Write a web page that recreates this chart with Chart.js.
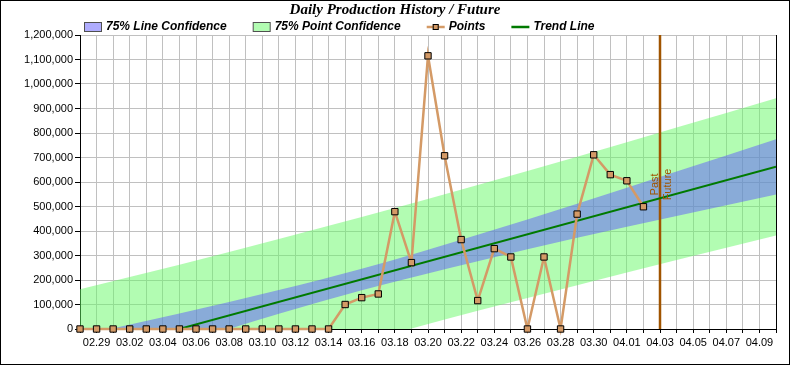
<!DOCTYPE html>
<html>
<head>
<meta charset="utf-8">
<title>Daily Production History / Future</title>
<script src="https://cdn.jsdelivr.net/npm/chart.js@4.4.1/dist/chart.umd.min.js"></script>
<style>
  html, body { margin: 0; padding: 0; background: #fff; }
  canvas { display: block; }
</style>
</head>
<body>
<canvas id="prodChart" width="790" height="365"></canvas>
<script>
// one label per day, 02.28 .. 04.10
const dayLabels = [
  '02.28', '02.29',
  '03.01', '03.02', '03.03', '03.04', '03.05', '03.06', '03.07', '03.08', '03.09', '03.10',
  '03.11', '03.12', '03.13', '03.14', '03.15', '03.16', '03.17', '03.18', '03.19', '03.20',
  '03.21', '03.22', '03.23', '03.24', '03.25', '03.26', '03.27', '03.28', '03.29', '03.30', '03.31',
  '04.01', '04.02', '04.03', '04.04', '04.05', '04.06', '04.07', '04.08', '04.09', '04.10'
];

// daily production, 02.28 .. 04.02
const production = [
  0, 0, 0, 0, 0, 0, 0, 0, 0, 0, 0, 0, 0, 0, 0, 0,
  100000, 128000, 143000, 479000, 271000, 1115000, 707000, 365000, 116000,
  328000, 294000, 0, 294000, 0, 469000, 711000, 630000, 605000, 499000
];

// trend line end points (day index, value)
const trendDays = [0, 42];
const trendValues = [-110000, 662000];

// confidence bands, sampled at these day indexes
const bandDays = [0, 6, 12, 17, 24, 30, 36, 42];
const lineConfUpper = [-27000, 63000, 159000, 246000, 385000, 511000, 643000, 775000];
const lineConfLower = [-193000, -63000, 62000, 158000, 277000, 372000, 461000, 549000];
const pointConfUpper = [162000, 262000, 367000, 457000, 588000, 703000, 822000, 942000];
const pointConfLower = [-377000, -260000, -145000, -53000, 74000, 179000, 282000, 382000];

// past / future split
const splitDay = 35;
const splitLabelValue = 590000;

const yTicks = { min: 0, max: 1200000, step: 100000 };

const pointsColor = '#d49a66';
const trendColor = '#007a00';
const splitColor = '#a05400';
const lineConfColor = 'rgba(96, 89, 254, 0.5)';
const pointConfColor = 'rgba(102, 250, 102, 0.5)';

const xy = (xs, ys) => ys.map((v, i) => ({ x: xs[i], y: v }));
const dayIdx = production.map((v, i) => i);

Chart.defaults.font.family = '"Liberation Sans", Arial, sans-serif';
Chart.defaults.font.size = 11;
Chart.defaults.color = '#000';

// white background + outer frame
const framePlugin = {
  id: 'frame',
  beforeDraw(chart) {
    const ctx = chart.ctx;
    ctx.save();
    ctx.fillStyle = '#fff';
    ctx.fillRect(0, 0, chart.width, chart.height);
    ctx.restore();
  },
  afterDraw(chart) {
    const ctx = chart.ctx;
    ctx.save();
    ctx.strokeStyle = '#000';
    ctx.lineWidth = 1;
    ctx.strokeRect(0.5, 0.5, chart.width - 1, chart.height - 1);
    ctx.restore();
  }
};

// "Past" / "Future" captions along the split line
const splitLabels = {
  id: 'splitLabels',
  afterDatasetsDraw(chart) {
    const ctx = chart.ctx;
    const x = chart.scales.x.getPixelForValue(splitDay);
    const y = chart.scales.y.getPixelForValue(splitLabelValue);
    ctx.save();
    ctx.fillStyle = splitColor;
    ctx.font = '11px "Liberation Sans", Arial, sans-serif';
    ctx.translate(x, y);
    ctx.rotate(-Math.PI / 2);
    ctx.textAlign = 'center';
    ctx.textBaseline = 'alphabetic';
    ctx.fillText('Past', 0, -2);
    ctx.textBaseline = 'top';
    ctx.fillText('Future', 0, 2);
    ctx.restore();
  }
};

// legend row under the title
const legendRow = {
  id: 'legendRow',
  afterDraw(chart) {
    const ctx = chart.ctx;
    const items = [
      { ds: 3, kind: 'box' },
      { ds: 5, kind: 'box' },
      { ds: 0, kind: 'marker' },
      { ds: 1, kind: 'line' }
    ];
    let x = chart.chartArea.left + 4;
    const y = chart.chartArea.top - 8;
    ctx.save();
    ctx.font = 'italic bold 12px "Liberation Sans", Arial, sans-serif';
    ctx.textBaseline = 'middle';
    items.forEach(it => {
      const ds = chart.data.datasets[it.ds];
      if (it.kind === 'box') {
        ctx.fillStyle = '#fff';
        ctx.fillRect(x + 0.5, y - 4.5, 17, 9);
        ctx.fillStyle = ds.backgroundColor;
        ctx.fillRect(x + 0.5, y - 4.5, 17, 9);
        ctx.strokeStyle = '#505050';
        ctx.lineWidth = 1;
        ctx.strokeRect(x + 0.5, y - 4.5, 17, 9);
      } else {
        ctx.strokeStyle = ds.borderColor;
        ctx.lineWidth = 2.5;
        ctx.beginPath();
        ctx.moveTo(x, y);
        ctx.lineTo(x + 18, y);
        ctx.stroke();
        if (it.kind === 'marker') {
          ctx.fillStyle = ds.pointBackgroundColor;
          ctx.fillRect(x + 6, y - 3, 6, 6);
          ctx.strokeStyle = '#000';
          ctx.lineWidth = 1;
          ctx.strokeRect(x + 6.5, y - 2.5, 5, 5);
        }
      }
      ctx.fillStyle = '#000';
      ctx.fillText(ds.label, x + 22, y);
      x += 22 + ctx.measureText(ds.label).width + 26;
    });
    ctx.restore();
  }
};

new Chart(document.getElementById('prodChart'), {
  type: 'line',
  data: {
    datasets: [
      {
        label: 'Points',
        data: xy(dayIdx, production),
        borderColor: pointsColor,
        borderWidth: 2.5,
        pointStyle: 'rect',
        pointRadius: 4.5,
        pointBackgroundColor: pointsColor,
        pointBorderColor: '#000',
        pointBorderWidth: 1,
        clip: false,
        fill: false
      },
      {
        label: 'Trend Line',
        data: xy(trendDays, trendValues),
        borderColor: trendColor,
        borderWidth: 2,
        pointRadius: 0,
        fill: false
      },
      {
        label: 'Split',
        data: xy([splitDay, splitDay], [yTicks.min, yTicks.max]),
        borderColor: splitColor,
        borderWidth: 2.5,
        pointRadius: 0,
        fill: false
      },
      {
        label: '75% Line Confidence',
        data: xy(bandDays, lineConfUpper),
        borderWidth: 0,
        pointRadius: 0,
        backgroundColor: lineConfColor,
        cubicInterpolationMode: 'monotone',
        fill: '+1'
      },
      {
        label: 'lineConfLower',
        data: xy(bandDays, lineConfLower),
        borderWidth: 0,
        pointRadius: 0,
        cubicInterpolationMode: 'monotone',
        fill: false
      },
      {
        label: '75% Point Confidence',
        data: xy(bandDays, pointConfUpper),
        borderWidth: 0,
        pointRadius: 0,
        backgroundColor: pointConfColor,
        cubicInterpolationMode: 'monotone',
        fill: '+1'
      },
      {
        label: 'pointConfLower',
        data: xy(bandDays, pointConfLower),
        borderWidth: 0,
        pointRadius: 0,
        cubicInterpolationMode: 'monotone',
        fill: false
      }
    ]
  },
  options: {
    responsive: false,
    animation: false,
    events: [],
    layout: { padding: 0 },
    scales: {
      x: {
        type: 'linear',
        min: 0,
        max: dayLabels.length - 1,
        ticks: {
          stepSize: 1,
          autoSkip: false,
          maxRotation: 0,
          padding: 3,
          callback: v => (v % 2 === 1 ? dayLabels[v] : '')
        },
        grid: { color: '#c0c0c0', tickColor: '#000', tickLength: 4 },
        border: { color: '#000', width: 1 },
        afterFit: s => { s.height = 36; }
      },
      y: {
        min: yTicks.min,
        max: yTicks.max,
        ticks: {
          stepSize: yTicks.step,
          autoSkip: false,
          padding: 2,
          callback: v => v.toLocaleString('en-US')
        },
        grid: { color: '#c0c0c0', tickColor: '#000', tickLength: 5 },
        border: { color: '#000', width: 1 },
        afterFit: s => { s.width = 80; }
      },
      y2: {
        position: 'right',
        min: 0,
        max: 1,
        ticks: { display: false },
        grid: { display: false, drawOnChartArea: false },
        border: { color: '#000', width: 1 },
        afterFit: s => { s.width = 14; }
      }
    },
    plugins: {
      legend: { display: false },
      tooltip: { enabled: false },
      title: {
        display: true,
        text: 'Daily Production History / Future',
        color: '#000',
        font: { family: '"Liberation Serif", "Times New Roman", serif', size: 15, weight: 'bold', style: 'italic' },
        padding: { top: 1, bottom: 16 }
      }
    }
  },
  plugins: [framePlugin, splitLabels, legendRow]
});
</script>
</body>
</html>
